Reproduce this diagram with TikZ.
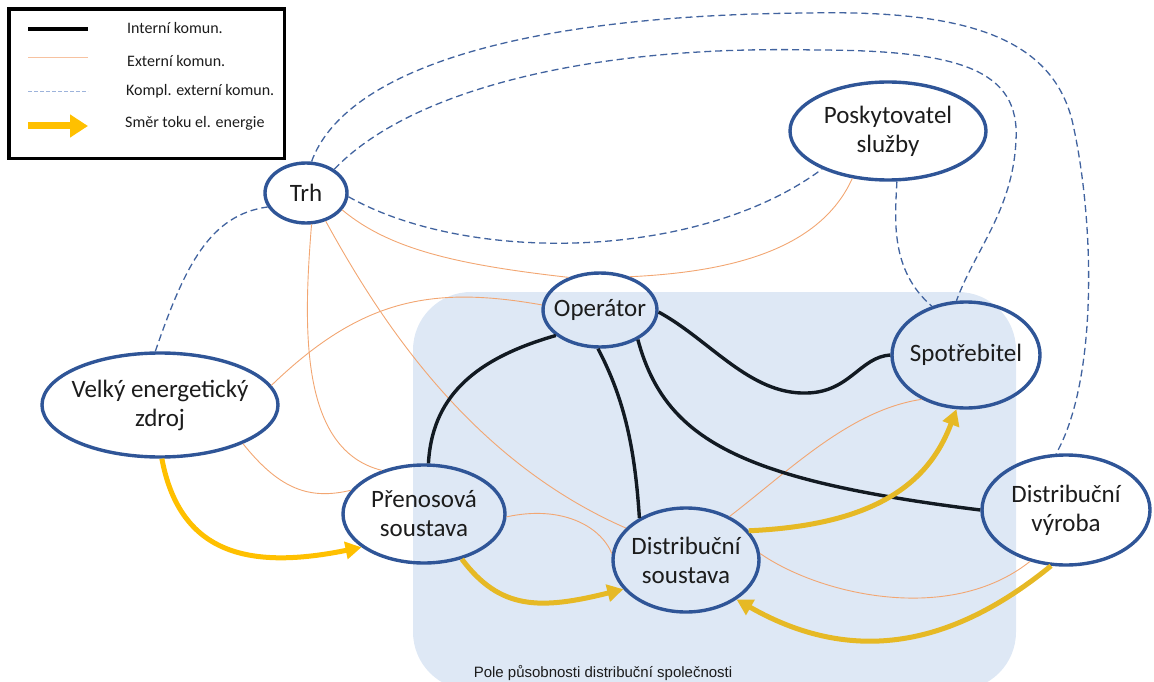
\documentclass[tikz,border=0pt]{standalone}
\usepackage{fontspec}
\setmainfont{Carlito}
\newfontfamily\fieldfont{Liberation Sans}
\usetikzlibrary{arrows.meta,shapes.geometric}

\definecolor{nodeblue}{HTML}{2F5597}
\definecolor{dashblue}{HTML}{41639F}
\definecolor{legdash}{HTML}{9DB3DB}
\definecolor{extorange}{HTML}{F2A672}
\definecolor{legorange}{HTML}{F7C2A0}
\definecolor{intblack}{HTML}{121A22}
\definecolor{flowyellow}{HTML}{FFC000}
\definecolor{flowgold}{HTML}{E6B925}
\definecolor{fieldblue}{HTML}{DEE8F5}
\definecolor{inktext}{HTML}{1C1C1C}

\begin{document}
\begin{tikzpicture}[x=1pt,y=-1pt,
  partytext/.style={align=center, inner sep=0pt, text=inktext,
    font=\fontsize{25}{29}\selectfont},
  party/.style n args={3}{ellipse, draw=nodeblue, line width=3.4pt,
    inner sep=0pt, minimum width=#1, minimum height=#2,
    label={[partytext]center:{#3}}},
  internal/.style={draw=intblack, line width=3.4pt},
  external/.style={draw=extorange, line width=0.9pt},
  complext/.style={draw=dashblue, line width=1.3pt, dash pattern=on 7pt off 4pt},
  flow/.style={draw=flowgold, line width=5pt, -{Triangle[length=16pt,width=17pt]}},
  legendtext/.style={anchor=base west, inner sep=0pt, text=inktext,
    font=\fontsize{16}{19}\selectfont},
]
\useasboundingbox (0,0) rectangle (1154,682);

% field of the distribution company
\fill[fieldblue, rounded corners=58pt] (413,292) rectangle (1016,690);
\node[font=\fieldfont\fontsize{15}{18}\selectfont, anchor=base, inner sep=0pt, text=inktext]
  (fieldlabel) at (603,677) {Pole působnosti distribuční společnosti};

% parties
\node[party={82pt}{60pt}{Trh}] (trh) at (306,193) {};
\node[party={196pt}{98pt}{Poskytovatel\\služby}] (posk) at (888,131) {};
\node[party={114pt}{74pt}{Operátor}] (op) at (600,310) {};
\node[party={148pt}{106pt}{Spotřebitel}] (spot) at (966,355) {};
\node[party={236pt}{104pt}{Velký energetický\\zdroj}] (velky) at (160,405) {};
\node[party={162pt}{98pt}{Přenosová\\soustava}] (pren) at (424,514) {};
\node[party={146pt}{104pt}{Distribuční\\soustava}] (dsou) at (686,560) {};
\node[party={168pt}{110pt}{Distribuční\\výroba}] (dvyr) at (1066,510) {};

% complementary external communication
\draw[complext] (trh.80) .. controls (345,70) and (520,15) .. (808,13)
  .. controls (960,10) and (1050,35) .. (1072,120)
  .. controls (1095,220) and (1098,380) .. (dvyr.100);
\draw[complext] (trh.40) .. controls (410,90) and (590,45) .. (814,50)
  .. controls (960,50) and (1020,70) .. (1016,140)
  .. controls (1013,210) and (975,250) .. (spot.100);
\draw[complext] (posk.-80) .. controls (895,220) and (890,270) .. (spot.125);
\draw[complext] (trh.-5) .. controls (470,265) and (700,260) .. (posk.210);
\draw[complext] (velky.95) .. controls (185,265) and (210,215) .. (trh.200);

% external communication
\draw[external] (trh.-80) .. controls (303,330) and (300,450) .. (pren.134);
\draw[external] (trh.-55) .. controls (380,320) and (470,460) .. (dsou.152);
\draw[external] (trh.-25) .. controls (390,250) and (460,265) .. (op.134);
\draw[external] (op.48) .. controls (730,272) and (820,250) .. (posk.233);
\draw[external] (velky.10) .. controls (360,300) and (430,285) .. (op.175);
\draw[external] (velky.-25) .. controls (280,490) and (310,500) .. (pren.162);
\draw[external] (pren.-2) .. controls (560,505) and (600,525) .. (dsou.175);
\draw[external] (dsou.45) .. controls (790,470) and (850,410) .. (spot.225);
\draw[external] (dsou.5) .. controls (820,595) and (950,625) .. (dvyr.235);

% internal communication
\draw[internal] (op.210) .. controls (470,360) and (432,400) .. (pren.85);
\draw[internal] (op.-93) .. controls (625,400) and (635,450) .. (dsou.138);
\draw[internal] (op.-38) .. controls (665,440) and (740,480) .. (dvyr.180);
\draw[internal] (op.-2) .. controls (710,340) and (750,395) .. (807,393)
  .. controls (850,392) and (860,357) .. (spot.180);

% flow of electric energy
\draw[flow, draw=flowyellow] (velky.-88) .. controls (180,555) and (250,570) .. (pren.208);
\draw[flow] (pren.-50) .. controls (500,610) and (540,610) .. (dsou.205);
\draw[flow] (dsou.25) .. controls (880,525) and (930,480) .. (spot.-100);
\draw[flow] (dvyr.-105) .. controls (960,640) and (860,670) .. (dsou.-38);

% legend
\draw[line width=3.3pt] (9,9) rectangle (284.5,158.5);
\coordinate (l1a) at (28,29);  \coordinate (l1b) at (88,29);
\coordinate (l2a) at (28,58);  \coordinate (l2b) at (88,58);
\coordinate (l3a) at (28,92);  \coordinate (l3b) at (88,92);
\coordinate (l4a) at (28,126); \coordinate (l4b) at (88,126);
\draw[draw=black, line width=4.5pt] (l1a) -- (l1b);
\draw[draw=legorange, line width=1pt] (l2a) -- (l2b);
\draw[draw=legdash, line width=1pt, dash pattern=on 4pt off 2pt] (l3a) -- (l3b);
\draw[draw=flowyellow, line width=7pt, -{Triangle[length=18pt,width=22pt]}] (l4a) -- (l4b);
\node[legendtext] (lt1) at (127,34) {Interní komun.};
\node[legendtext] (lt2) at (127,67) {Externí komun.};
\node[legendtext] (lt3) at (126,96) {Kompl. externí komun.};
\node[legendtext] (lt4) at (125,128) {Směr toku el. energie};
\end{tikzpicture}
\end{document}
